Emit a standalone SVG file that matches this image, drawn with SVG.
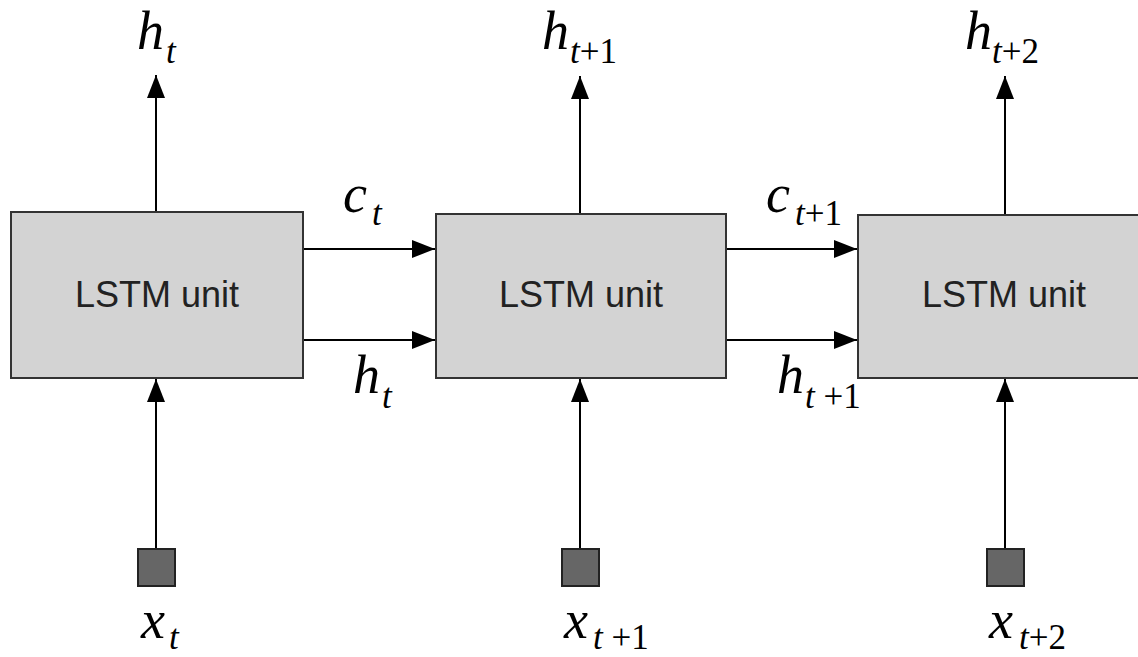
<svg xmlns="http://www.w3.org/2000/svg" width="1138" height="657" viewBox="0 0 1138 657">
<style>
.box{fill:#d3d3d3;stroke:#333;stroke-width:2}
.sq{fill:#666;stroke:#222;stroke-width:2}
.lbl{font-family:"Liberation Sans",Arial,sans-serif;font-size:36px;fill:#222;text-anchor:middle}
.m{font-family:"Liberation Serif","Times New Roman",serif;font-style:italic;font-size:54px;fill:#000}
.s{font-size:35px}
.u{font-style:normal}
.e{stroke:#000;stroke-width:2;fill:none;marker-end:url(#ah)}
</style>
<defs>
<marker id="ah" viewBox="0 0 23 18" refX="23" refY="9" markerWidth="23" markerHeight="18" markerUnits="userSpaceOnUse" orient="auto">
<path d="M0,0 L23,9 L0,18 Z" fill="#000"/>
</marker>
</defs>
<rect width="1138" height="657" fill="#fff"/>
<g id="connectors">
<path class="e" d="M156,212 V75"/>
<path class="e" d="M580,214 V76"/>
<path class="e" d="M1005,215 V76"/>
<path class="e" d="M303,249 H435"/>
<path class="e" d="M303,340 H435"/>
<path class="e" d="M726,249 H857"/>
<path class="e" d="M726,340 H857"/>
<path class="e" d="M156,549 V379"/>
<path class="e" d="M580,549 V379"/>
<path class="e" d="M1005,549 V379"/>
</g>
<g id="lstm1"><rect class="box" x="11" y="212" width="292" height="166"/><text class="lbl" x="157" y="307">LSTM unit</text></g>
<g id="lstm2"><rect class="box" x="436" y="214" width="290" height="164"/><text class="lbl" x="581" y="307">LSTM unit</text></g>
<g id="lstm3"><rect class="box" x="858" y="215" width="300" height="163"/><text class="lbl" x="1004" y="307">LSTM unit</text></g>
<g id="x1"><rect class="sq" x="138" y="549" width="37" height="37"/></g>
<g id="x2"><rect class="sq" x="562" y="549" width="37" height="37"/></g>
<g id="x3"><rect class="sq" x="987" y="549" width="37" height="37"/></g>
<g id="labels">
<text class="m" x="137" y="49">h<tspan class="s" x="166" y="63">t</tspan></text>
<text class="m" x="542" y="49">h<tspan class="s" x="570" y="63">t<tspan class="u">+1</tspan></tspan></text>
<text class="m" x="965" y="49">h<tspan class="s" x="992" y="63">t<tspan class="u">+2</tspan></tspan></text>
<text class="m" x="343" y="212">c<tspan class="s" x="372" y="225">t</tspan></text>
<text class="m" x="766" y="212">c<tspan class="s" x="795" y="225">t<tspan class="u">+1</tspan></tspan></text>
<text class="m" x="353" y="393">h<tspan class="s" x="382" y="408">t</tspan></text>
<text class="m" x="777" y="393">h<tspan class="s" x="805" y="408">t<tspan class="u"> +1</tspan></tspan></text>
<text class="m" x="141" y="638">x<tspan class="s" x="169" y="649">t</tspan></text>
<text class="m" x="564" y="638">x<tspan class="s" x="593" y="649">t<tspan class="u"> +1</tspan></tspan></text>
<text class="m" x="989" y="638">x<tspan class="s" x="1019" y="649">t<tspan class="u">+2</tspan></tspan></text>
</g>
</svg>
